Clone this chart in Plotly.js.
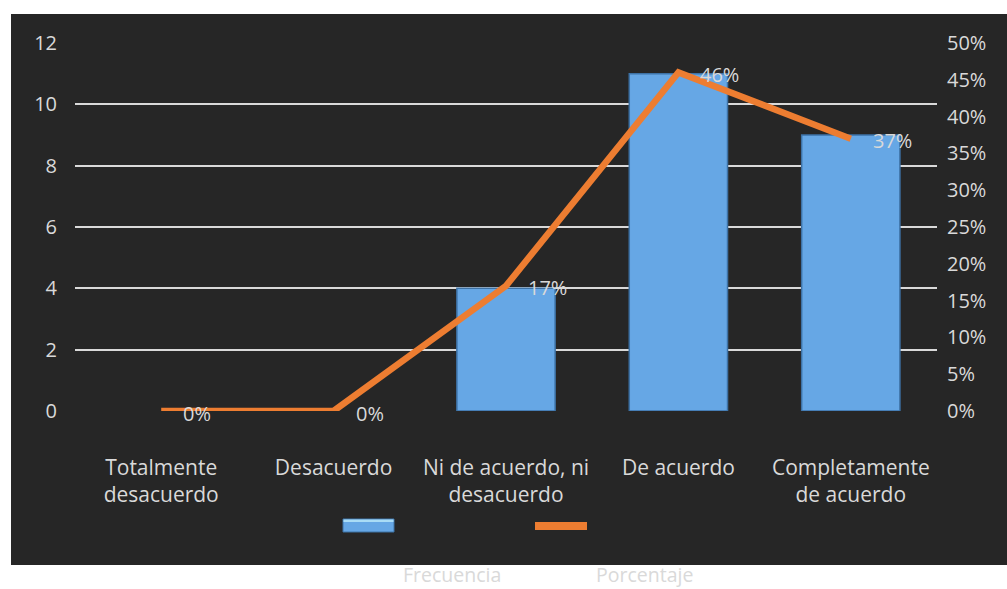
<!DOCTYPE html>
<html>
<head>
<meta charset="utf-8">
<script src="https://cdn.plot.ly/plotly-3.0.1.min.js"></script>
<style>html,body{margin:0;padding:0;background:#fff;}#chart{width:1007px;height:589px;}</style>
</head>
<body>
<div id="chart"></div>
<script>
const categories = ["Totalmente<br>desacuerdo", "Desacuerdo", "Ni de acuerdo, ni<br>desacuerdo", "De acuerdo", "Completamente<br>de acuerdo"];
const frecuencia = [0, 0, 4, 11, 9];
const porcentaje = [0, 0, 17, 46, 37];
const porcentajeLabels = ["0%", "0%", "17%", "46%", "37%"];
const leftTicks = [0, 2, 4, 6, 8, 10, 12];
const rightTicks = [0, 5, 10, 15, 20, 25, 30, 35, 40, 45, 50];
const seriesNames = ["Frecuencia", "Porcentaje"];

const W = 1007, H = 589;
const L = 75, R = 937, T = 43, B = 411;
const px = x => (x - L) / (R - L);
const py = y => (B - y) / (B - T);
const FONT = "Open Sans, DejaVu Sans, sans-serif";
const TXT = "#d9d9d9";

const xs = categories.map((c, i) => i);

const traces = [
  {
    type: "bar", x: xs, y: frecuencia, name: seriesNames[0], width: 0.57,
    marker: {color: "#66a7e5", line: {color: "#3d72a6", width: frecuencia.map(v => v > 0 ? 1.5 : 0)}},
    hoverinfo: "skip", showlegend: false
  },
  {
    type: "scatter", mode: "lines", x: xs, y: porcentaje, yaxis: "y2", name: seriesNames[1],
    line: {color: "#ed7d31", width: 6.5},
    hoverinfo: "skip", showlegend: false
  }
];

const annotations = porcentaje.map((v, i) => ({
  x: xs[i], y: v, xref: "x", yref: "y2", text: porcentajeLabels[i],
  showarrow: false, xanchor: "left", yanchor: "middle", xshift: 20, yshift: -2,
  font: {family: FONT, size: 20, color: TXT}
}));
annotations.push(
  {x: px(452), y: py(574), xref: "paper", yref: "paper", text: seriesNames[0], showarrow: false,
   xanchor: "center", yanchor: "middle", font: {family: FONT, size: 19.5, color: TXT}},
  {x: px(644), y: py(574), xref: "paper", yref: "paper", text: seriesNames[1], showarrow: false,
   xanchor: "center", yanchor: "middle", font: {family: FONT, size: 19.5, color: TXT}}
);

const shapes = [
  {type: "rect", xref: "paper", yref: "paper", x0: px(11), x1: px(1007), y0: py(565), y1: py(14),
   fillcolor: "#262626", line: {width: 0}, layer: "below"},
  {type: "rect", xref: "paper", yref: "paper", x0: px(343), x1: px(394), y0: py(532), y1: py(519),
   fillcolor: "#66a7e5", line: {color: "#3d72a6", width: 1}, layer: "above"},
  {type: "rect", xref: "paper", yref: "paper", x0: px(343.5), x1: px(393.5), y0: py(522), y1: py(519.5),
   fillcolor: "#a9dcf6", line: {width: 0}, layer: "above"},
  {type: "rect", xref: "paper", yref: "paper", x0: px(535), x1: px(587), y0: py(530), y1: py(522),
   fillcolor: "#ed7d31", line: {width: 0}, layer: "above"}
];

const layout = {
  width: W, height: H,
  margin: {l: L, r: W - R, t: T, b: H - B, pad: 0},
  paper_bgcolor: "#ffffff", plot_bgcolor: "rgba(0,0,0,0)",
  showlegend: false,
  font: {family: FONT, size: 20, color: TXT},
  xaxis: {
    range: [-0.5, 4.5], tickmode: "array", tickvals: xs, ticktext: categories,
    showgrid: false, zeroline: false, showline: false, ticks: "",
    ticklabelstandoff: 42, tickfont: {family: FONT, size: 21, color: TXT}, fixedrange: true
  },
  yaxis: {
    range: [0, 12], tickmode: "array", tickvals: leftTicks, ticktext: leftTicks.map(String),
    showgrid: true, gridcolor: "#d9d9d9", gridwidth: 2, zeroline: false, showline: false, ticks: "",
    ticklabelstandoff: 17, tickfont: {family: FONT, size: 20, color: TXT}, fixedrange: true
  },
  yaxis2: {
    range: [0, 50], overlaying: "y", side: "right", tickmode: "array", tickvals: rightTicks,
    ticktext: rightTicks.map(v => v + "%"), showgrid: false, zeroline: false, showline: false, ticks: "",
    ticklabelstandoff: 9, tickfont: {family: FONT, size: 20, color: TXT}, fixedrange: true
  },
  shapes: shapes,
  annotations: annotations
};

Plotly.newPlot("chart", traces, layout, {displayModeBar: false, staticPlot: true});
</script>
</body>
</html>
